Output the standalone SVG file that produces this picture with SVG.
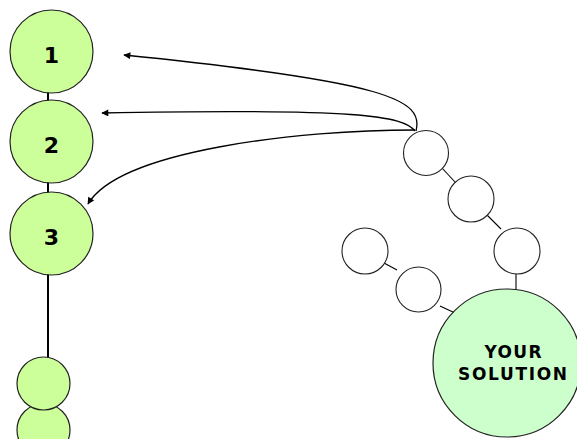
<svg xmlns="http://www.w3.org/2000/svg" width="577" height="439" viewBox="0 0 577 439">
<style>
.g{fill:#ccff99;stroke:#222;stroke-width:1.2}
.w{fill:#fff;stroke:#222;stroke-width:1.1}
.big{fill:#ccffcc;stroke:#222;stroke-width:1.2}
.num{font-family:"DejaVu Sans",Verdana,sans-serif;font-weight:bold;font-size:22px;fill:#000;text-anchor:middle}
.lbl{font-family:"DejaVu Sans",Verdana,sans-serif;font-weight:bold;font-size:17px;fill:#000;text-anchor:middle}
.ln{stroke:#000;stroke-width:2;fill:none}
.thin{stroke:#000;stroke-width:1.1;fill:none}
.arr{stroke:#000;stroke-width:1.3;fill:none;marker-end:url(#ah)}
</style>
<defs>
<marker id="ah" viewBox="0 0 10 10" refX="9" refY="5" markerWidth="8" markerHeight="7" markerUnits="userSpaceOnUse" orient="auto">
<path d="M0,0 L10,5 L0,10 z" fill="#000"/>
</marker>
</defs>
<g id="connectors">
<line class="ln" x1="48" y1="90" x2="48" y2="104"/>
<line class="ln" x1="48" y1="181" x2="48" y2="195"/>
<line class="ln" x1="48" y1="272" x2="48" y2="358"/>
<line class="thin" x1="442" y1="168" x2="455" y2="182"/>
<line class="thin" x1="487" y1="215" x2="501" y2="229"/>
<line class="thin" x1="516" y1="274" x2="516" y2="290"/>
<line class="thin" x1="384" y1="263" x2="397" y2="270"/>
<line class="thin" x1="440" y1="306" x2="455" y2="313"/>
<path class="arr" d="M416,131 C424,100 390,82 124,55"/>
<path class="arr" d="M415,131 C403,116 360,108 102,113"/>
<path class="arr" d="M415,130 C300,130 120,150 88,204"/>
</g>
<g id="n1"><circle class="g" cx="51.5" cy="51.5" r="41.5"/><text class="num" x="51.5" y="63">1</text></g>
<g id="n2"><circle class="g" cx="51.5" cy="141.5" r="41.5"/><text class="num" x="51.5" y="153">2</text></g>
<g id="n3"><circle class="g" cx="51.5" cy="233.5" r="41.5"/><text class="num" x="51.5" y="245">3</text></g>
<g id="n4"><circle class="g" cx="43.5" cy="430" r="26.5"/></g>
<g id="n5"><circle class="g" cx="43.5" cy="383.5" r="26.5"/></g>
<g id="a"><circle class="w" cx="426" cy="153" r="22.5"/></g>
<g id="b"><circle class="w" cx="471" cy="199" r="23"/></g>
<g id="c"><circle class="w" cx="517" cy="251" r="23"/></g>
<g id="d"><circle class="w" cx="365" cy="251" r="23"/></g>
<g id="e"><circle class="w" cx="418.5" cy="289.5" r="22.5"/></g>
<g id="solution"><circle class="big" cx="507" cy="363" r="74"/>
<text class="lbl" x="513" y="358" textLength="57" lengthAdjust="spacing">YOUR</text>
<text class="lbl" x="512.5" y="380" textLength="109" lengthAdjust="spacing">SOLUTION</text></g>
</svg>
